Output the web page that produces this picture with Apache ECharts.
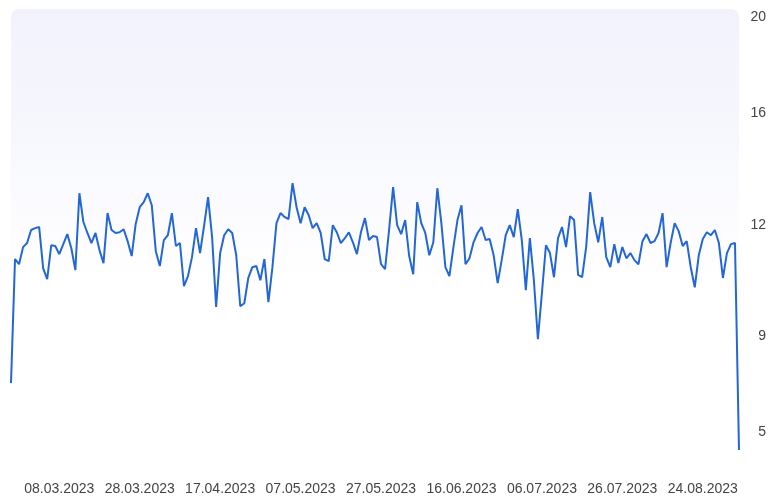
<!DOCTYPE html>
<html>
<head>
<meta charset="utf-8">
<script src="https://cdn.jsdelivr.net/npm/echarts@6/dist/echarts.min.js"></script>
<style>
  html, body { margin: 0; padding: 0; background: #ffffff; }
  #chart { width: 775px; height: 504px; }
</style>
</head>
<body>
<div id="chart"></div>
<script>
// ---- data ----
const startDate = '2023-02-24';
// days absent from the daily series (gap between 26.07 and 24.08)
const missingDates = ['2023-08-04','2023-08-05','2023-08-06','2023-08-07','2023-08-08',
                      '2023-08-09','2023-08-10','2023-08-11','2023-08-12'];
const pointCount = 182;

const values = [
  7.05, 11.08, 10.94, 11.40, 11.51, 11.86, 11.91, 11.94, 10.83, 10.54,
  11.45, 11.43, 11.21, 11.48, 11.75, 11.37, 10.78, 13.13, 12.10, 11.78,
  11.51, 11.78, 11.32, 10.97, 12.42, 11.86, 11.78, 11.80, 11.88, 11.56,
  11.16, 12.03, 12.63, 12.81, 13.13, 12.70, 11.29, 10.89, 11.59, 11.72,
  12.42, 11.43, 11.51, 10.35, 10.62, 11.13, 11.91, 11.24, 11.97, 12.99,
  11.67, 9.79, 11.24, 11.72, 11.88, 11.78, 11.18, 9.81, 9.89, 10.57,
  10.86, 10.89, 10.51, 11.08, 9.92, 10.86, 12.06, 12.42, 12.28, 12.20,
  13.49, 12.63, 12.06, 12.63, 12.35, 11.91, 12.06, 11.78, 11.08, 11.02,
  11.99, 11.80, 11.51, 11.64, 11.80, 11.53, 11.21, 11.80, 12.24, 11.59,
  11.70, 11.67, 10.94, 10.81, 11.86, 13.35, 11.99, 11.75, 12.17, 11.16,
  10.67, 12.81, 12.06, 11.78, 11.18, 11.53, 13.31, 12.06, 10.86, 10.62,
  11.40, 12.17, 12.70, 10.94, 11.10, 11.53, 11.78, 11.94, 11.59, 11.62,
  11.18, 10.43, 11.05, 11.72, 11.99, 11.67, 12.56, 11.59, 10.24, 11.64,
  10.51, 8.88, 10.16, 11.45, 11.24, 10.59, 11.64, 11.94, 11.40, 12.31,
  12.17, 10.65, 10.59, 11.40, 13.17, 12.06, 11.53, 12.28, 11.13, 10.86,
  11.48, 10.97, 11.40, 11.10, 11.24, 11.05, 10.94, 11.56, 11.75, 11.51,
  11.56, 11.78, 12.42, 10.86, 11.51, 12.06, 11.83, 11.43, 11.56, 10.86,
  10.32, 11.18, 11.62, 11.80, 11.72, 11.86, 11.51, 10.57, 11.24, 11.48,
  11.51, 4.26
];

const yTickValues = [5, 9, 12, 16, 20];
// non-linear value scale of the reference axis: [value, axis position]
const yScaleKnots = [[5, 5], [9, 8.47], [12, 12.5], [16, 16.54], [20, 20]];

// ---- helpers ----
function pad(n) { return n < 10 ? '0' + n : '' + n; }
function buildDates() {
  const out = [];
  const d = new Date(startDate + 'T00:00:00Z');
  while (out.length < pointCount) {
    const iso = d.getUTCFullYear() + '-' + pad(d.getUTCMonth() + 1) + '-' + pad(d.getUTCDate());
    if (missingDates.indexOf(iso) < 0) {
      out.push(pad(d.getUTCDate()) + '.' + pad(d.getUTCMonth() + 1) + '.' + d.getUTCFullYear());
    }
    d.setUTCDate(d.getUTCDate() + 1);
  }
  return out;
}
const categories = buildDates();

function toAxis(v) {
  const k = yScaleKnots;
  let i = 0;
  if (v <= k[0][0]) i = 0;
  else if (v >= k[k.length - 1][0]) i = k.length - 2;
  else { while (i < k.length - 2 && v > k[i + 1][0]) i++; }
  const a = k[i], b = k[i + 1];
  return a[1] + (v - a[0]) * (b[1] - a[1]) / (b[0] - a[0]);
}
const tickPositions = yTickValues.map(toAxis);

const chart = echarts.init(document.getElementById('chart'), null, { renderer: 'canvas' });
chart.setOption({
  animation: false,
  backgroundColor: '#ffffff',
  textStyle: { fontFamily: 'Liberation Sans, Arial, sans-serif' },
  grid: { left: 11, right: 36, top: 9, bottom: 44, containLabel: false },
  graphic: [{
    type: 'rect',
    left: 11, top: 9, z: -1, silent: true,
    shape: { width: 728, height: 451, r: [8, 8, 0, 0] },
    style: {
      fill: new echarts.graphic.LinearGradient(0, 0, 0, 1, [
        { offset: 0, color: '#f1f2fc' },
        { offset: 0.25, color: '#f6f7fd' },
        { offset: 0.5, color: '#fdfdff' },
        { offset: 0.62, color: '#ffffff' },
        { offset: 1, color: '#ffffff' }
      ])
    }
  }],
  xAxis: {
    type: 'category',
    data: categories,
    boundaryGap: false,
    axisLine: { show: false },
    axisTick: { show: false },
    splitLine: { show: false },
    axisLabel: {
      interval: function (idx) { return idx % 20 === 12; },
      color: '#444444',
      fontSize: 14,
      margin: 22,
      hideOverlap: false
    }
  },
  yAxis: {
    type: 'value',
    position: 'right',
    min: 4,
    max: 20.3,
    axisLine: { show: false },
    axisTick: { show: false },
    splitLine: { show: false },
    axisLabel: {
      customValues: tickPositions,
      color: '#444444',
      fontSize: 14,
      align: 'right',
      margin: 27,
      formatter: function (val) {
        let best = 0;
        for (let i = 1; i < tickPositions.length; i++) {
          if (Math.abs(tickPositions[i] - val) < Math.abs(tickPositions[best] - val)) best = i;
        }
        return String(yTickValues[best]);
      }
    }
  },
  series: [{
    type: 'line',
    data: values.map(toAxis),
    showSymbol: false,
    symbol: 'none',
    lineStyle: { color: '#2366d8', width: 2 },
    z: 3
  }]
});
</script>
</body>
</html>
